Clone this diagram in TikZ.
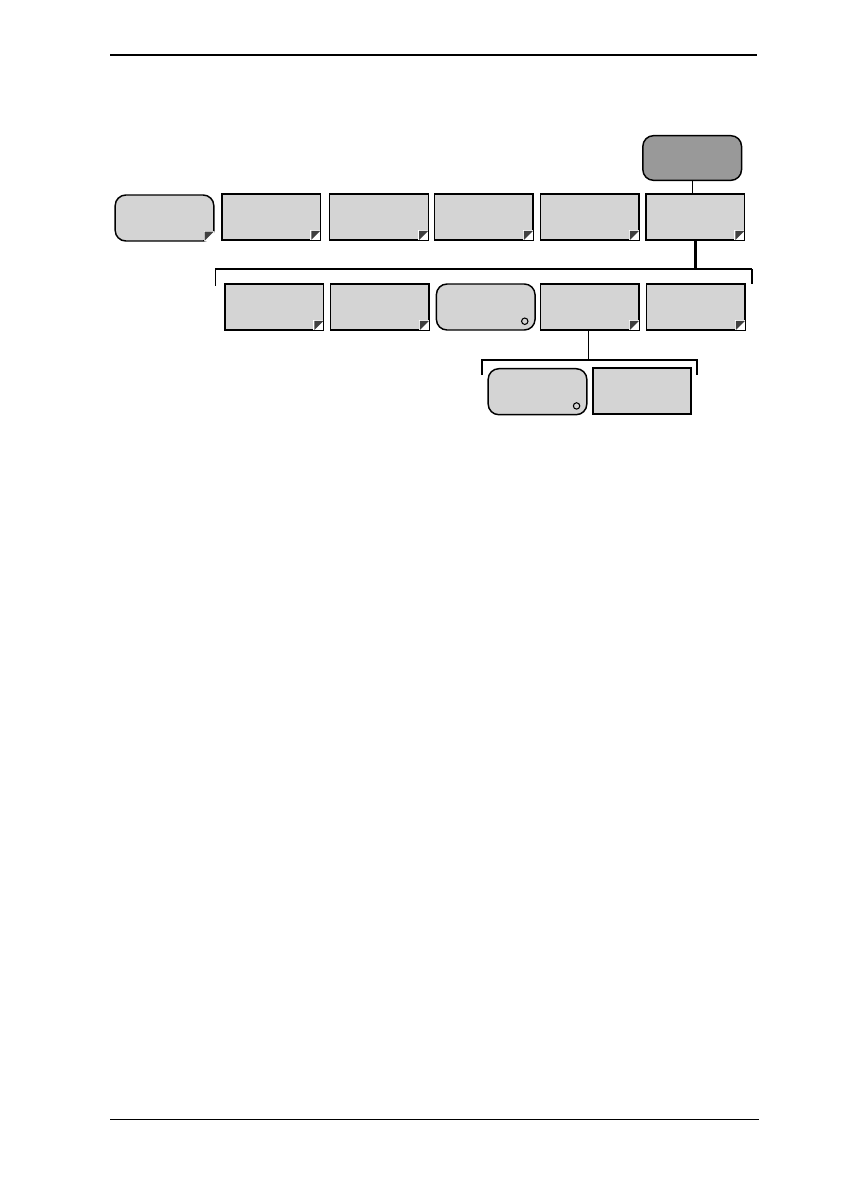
\documentclass[tikz,border=0pt]{standalone}
\definecolor{boxgray}{RGB}{212,212,212}
\definecolor{darkgray2}{RGB}{153,153,153}
\definecolor{icondark}{RGB}{64,64,64}
\tikzset{
  menubox/.style={draw=black, line width=1.1pt, fill=boxgray, minimum width=74pt, minimum height=34.5pt, inner sep=0pt},
  roundbox/.style={menubox, rounded corners=8pt},
  topbox/.style={roundbox, fill=darkgray2, minimum height=33.5pt},
  thinline/.style={line width=0.9pt},
  thickline/.style={line width=2.2pt},
  rule/.style={line width=0.9pt}
}
\newcommand\cornermark[1]{%
  \fill[white] (#1.south east) ++(-11,-11) rectangle ++(10,10);
  \fill[icondark] (#1.south east) ++(-10,-10) -- ++(9,0) -- ++(-9,9) -- cycle;
}
\newcommand\circlemark[1]{%
  \draw[line width=0.8pt] (#1.south east) ++(-11,-9.5) circle[radius=3.2];
}
\begin{document}
\begin{tikzpicture}[x=0.75pt,y=-0.75pt]
\useasboundingbox (0,0) rectangle (840,1190);
% header and footer rules
\coordinate (hl) at (110,55); \coordinate (hr) at (757,55);
\draw[rule] (hl) -- (hr);
\coordinate (fl) at (110,1119.5); \coordinate (fr) at (759,1119.5);
\draw[rule] (fl) -- (fr);
% top dark box
\node[topbox] (top) at (692.2,158) {};
% row 1
\node[roundbox] (r1) at (164.5,218) {};
\node[menubox] (r2) at (271.2,217.2) {};
\node[menubox] (r3) at (379,217.2) {};
\node[menubox] (r4) at (483.8,217.2) {};
\node[menubox] (r5) at (589.8,217.2) {};
\node[menubox] (r6) at (695.3,217.2) {};
% row 2
\node[menubox] (a) at (274.3,307.2) {};
\node[menubox] (b) at (379.8,307.2) {};
\node[roundbox] (c) at (485.7,307) {};
\node[menubox] (d) at (589.8,307.2) {};
\node[menubox] (e) at (695.8,307.2) {};
% row 3
\node[roundbox] (f) at (537.5,391.7) {};
\node[menubox, line width=1.4pt] (g) at (642,391.4) {};
% marks
\cornermark{r1}\cornermark{r2}\cornermark{r3}\cornermark{r4}\cornermark{r5}\cornermark{r6}
\cornermark{a}\cornermark{b}\cornermark{d}\cornermark{e}
\circlemark{c}\circlemark{f}
% connectors
\draw[thinline] (top.south) -- (top.south |- r6.north);
\coordinate (j1) at (695.7,269);
\coordinate (b1l) at (215.5,269);
\coordinate (b1r) at (751.7,269);
\draw[thickline] (r6.south -| j1) -- (j1);
\draw[thinline] (b1l) ++(0,16.5) -- (b1l) -- (b1r);
\draw[line width=1.8pt] (b1r) -- ++(0,15);
\coordinate (j2) at (588.7,360);
\coordinate (b2l) at (481.7,360);
\coordinate (b2r) at (697,360);
\draw[thinline] (d.south -| j2) -- (j2);
\draw[line width=1.2pt] (b2l) ++(0,15) -- (b2l) -- (b2r) -- ++(0,15);
\end{tikzpicture}
\end{document}
